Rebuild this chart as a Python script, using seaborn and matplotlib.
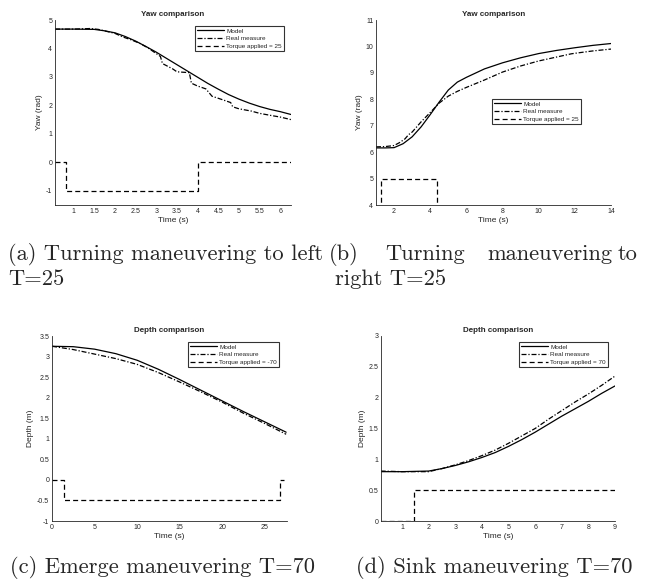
import seaborn as sns
import matplotlib
matplotlib.use("Agg")
import matplotlib.pyplot as plt
import numpy as np

# (a) turning left, T=25
a_model_t = [0.55, 1.0, 1.5, 1.75, 2.0, 2.25, 2.5, 2.75, 3.0, 3.25, 3.5, 3.75, 4.0,
             4.25, 4.5, 4.75, 5.0, 5.25, 5.5, 5.75, 6.0, 6.26]
a_model = [4.68, 4.68, 4.67, 4.62, 4.55, 4.42, 4.26, 4.07, 3.87, 3.65, 3.43, 3.21, 2.99,
           2.77, 2.57, 2.38, 2.22, 2.08, 1.96, 1.86, 1.78, 1.68]
a_real_t = [0.55, 1.0, 1.4, 1.6, 1.8, 2.0, 2.2, 2.4, 2.6, 2.8, 3.0, 3.1, 3.15, 3.4, 3.5,
            3.8, 3.85, 4.0, 4.2, 4.35, 4.5, 4.8, 4.85, 5.0, 5.3, 5.5, 5.8, 6.0, 6.26]
a_real = [4.68, 4.68, 4.70, 4.67, 4.60, 4.53, 4.40, 4.30, 4.18, 4.02, 3.82, 3.72, 3.47,
          3.28, 3.18, 3.15, 2.78, 2.68, 2.58, 2.32, 2.25, 2.10, 1.95, 1.88, 1.80, 1.72,
          1.64, 1.59, 1.50]
a_torque_t = [0.55, 0.82, 4.02, 6.26]
a_torque = [0, -1, 0, 0]

# (b) turning right, T=25
b_model_t = [1, 1.5, 2, 2.5, 3, 3.5, 4, 4.5, 5, 5.5, 6, 7, 8, 9, 10, 11, 12, 13, 14]
b_model = [6.16, 6.16, 6.17, 6.32, 6.58, 6.96, 7.42, 7.90, 8.35, 8.65, 8.83, 9.15, 9.38,
           9.57, 9.73, 9.85, 9.95, 10.04, 10.11]
b_real_t = [1, 1.5, 2, 2.3, 2.6, 2.8, 3, 3.5, 4, 4.5, 5, 5.5, 6, 7, 8, 9, 10, 11, 11.8,
            12, 13, 14]
b_real = [6.20, 6.21, 6.25, 6.36, 6.50, 6.66, 6.76, 7.15, 7.50, 7.86, 8.12, 8.30, 8.45,
          8.73, 9.03, 9.26, 9.45, 9.60, 9.72, 9.74, 9.83, 9.90]
b_torque_t = [1.0, 1.3, 4.4, 14]
b_torque = [0, 5, 0, 0]

# (c) emerge, T=-70
c_t = [0, 2.5, 5, 7.5, 10, 12.5, 15, 17.5, 20, 22.5, 25, 27.5]
c_model = [3.25, 3.24, 3.18, 3.07, 2.91, 2.69, 2.44, 2.18, 1.92, 1.66, 1.41, 1.16]
c_real = [3.25, 3.17, 3.06, 2.95, 2.81, 2.61, 2.38, 2.14, 1.89, 1.62, 1.37, 1.11]
c_torque_t = [0, 1.4, 26.8, 27.3]
c_torque = [0, -0.5, 0, 0]

# (d) sink, T=70
d_t = [0.2, 1, 2, 2.5, 3, 3.5, 4, 4.5, 5, 5.5, 6, 6.5, 7, 7.5, 8, 8.5, 9]
d_model = [0.80, 0.80, 0.81, 0.85, 0.90, 0.96, 1.03, 1.11, 1.21, 1.32, 1.44, 1.57, 1.70,
           1.82, 1.94, 2.07, 2.19]
d_real = [0.81, 0.80, 0.80, 0.85, 0.91, 0.98, 1.06, 1.15, 1.26, 1.38, 1.50, 1.65, 1.79,
          1.93, 2.06, 2.20, 2.35]
d_torque_t = [0.2, 1.45, 9]
d_torque = [0, 0.5, 0.5]

sns.set_style("white")
plt.rcParams['font.family'] = ['Liberation Sans', 'DejaVu Sans']
plt.rcParams['axes.unicode_minus'] = False

W, H = 646, 581
fig = plt.figure(figsize=(W / 100, H / 100), dpi=100)
gray = '#262626'


def box(l, t, r, b):
    return [l / W, 1 - b / H, (r - l) / W, (b - t) / H]


panels = [
    dict(pos=box(55, 20, 291, 205), model=(a_model_t, a_model), real=(a_real_t, a_real),
         torque=(a_torque_t, a_torque), tlabel='Torque applied = 25', title='Yaw comparison',
         ylabel='Yaw (rad)', xlim=(0.55, 6.26), ylim=(-1.5, 5),
         xticks=np.arange(1, 6.01, 0.5), yticks=np.arange(-1, 5.01, 1), leg=(0.97, 0.968)),
    dict(pos=box(376, 20, 611, 205), model=(b_model_t, b_model), real=(b_real_t, b_real),
         torque=(b_torque_t, b_torque), tlabel='Torque applied = 25', title='Yaw comparison',
         ylabel='Yaw (rad)', xlim=(1, 14), ylim=(4, 11),
         xticks=np.arange(2, 14.01, 2), yticks=np.arange(4, 11.01, 1), leg=(0.872, 0.573)),
    dict(pos=box(52, 336, 287, 521), model=(c_t, c_model), real=(c_t, c_real),
         torque=(c_torque_t, c_torque), tlabel='Torque applied = -70', title='Depth comparison',
         ylabel='Depth (m)', xlim=(0, 27.6), ylim=(-1, 3.5),
         xticks=np.arange(0, 25.01, 5), yticks=np.arange(-1, 3.51, 0.5), leg=(0.966, 0.968)),
    dict(pos=box(381, 336, 615, 521), model=(d_t, d_model), real=(d_t, d_real),
         torque=(d_torque_t, d_torque), tlabel='Torque applied = 70', title='Depth comparison',
         ylabel='Depth (m)', xlim=(0.21, 9), ylim=(0, 3),
         xticks=np.arange(1, 9.01, 1), yticks=np.arange(0, 3.01, 0.5), leg=(0.97, 0.968)),
]

for p in panels:
    ax = fig.add_axes(p['pos'])
    sns.lineplot(x=p['model'][0], y=p['model'][1], ax=ax, color='k', lw=0.9,
                 estimator=None, sort=False, label='Model')
    sns.lineplot(x=p['real'][0], y=p['real'][1], ax=ax, color='k', lw=0.9,
                 linestyle=(0, (4, 1.5, 1, 1.5)), estimator=None, sort=False,
                 label='Real measure')
    sns.lineplot(x=p['torque'][0], y=p['torque'][1], ax=ax, color='k', lw=0.9,
                 linestyle=(0, (4, 2.5)), drawstyle='steps-post', estimator=None,
                 sort=False, label=p['tlabel'])
    ax.set_xlim(*p['xlim'])
    ax.set_ylim(*p['ylim'])
    ax.set_xticks(p['xticks'])
    ax.set_yticks(p['yticks'])
    ax.set_xticklabels(['%g' % v for v in p['xticks']])
    ax.set_yticklabels(['%g' % v for v in p['yticks']])
    ax.set_title(p['title'], fontsize=5.8, fontweight='bold', pad=3)
    ax.set_xlabel('Time (s)', fontsize=6, color=gray, labelpad=1.5)
    ax.set_ylabel(p['ylabel'], fontsize=6, color=gray, labelpad=2)
    ax.tick_params(direction='in', length=2.5, width=0.5, labelsize=5, colors=gray, pad=2)
    for s in ['top', 'right']:
        ax.spines[s].set_visible(False)
    for s in ['left', 'bottom']:
        ax.spines[s].set_color(gray)
        ax.spines[s].set_linewidth(0.6)
    leg = ax.legend(loc='upper right', bbox_to_anchor=p['leg'], borderaxespad=0,
                    fontsize=4.6, handlelength=4.2, handletextpad=0.3, labelspacing=0.35,
                    borderpad=0.35, fancybox=False, frameon=True)
    leg.get_frame().set_edgecolor('k')
    leg.get_frame().set_linewidth(0.8)

cap = dict(family='cmr10', fontsize=16.2, va='baseline', ha='left')
fig.text(8 / W, 1 - 260 / H, '(a) Turning maneuvering to left', **cap)
fig.text(8 / W, 1 - 285 / H, 'T=25', **cap)
for x, w in [(329, '(b)'), (385, 'Turning'), (487, 'maneuvering'), (618, 'to')]:
    fig.text(x / W, 1 - 260 / H, w, **cap)
fig.text(335 / W, 1 - 285 / H, 'right T=25', **cap)
fig.text(10 / W, 1 - 573 / H, '(c) Emerge maneuvering T=70', **cap)
fig.text(356 / W, 1 - 573 / H, '(d) Sink maneuvering T=70', **cap)

fig.savefig('out.png', dpi=100)
